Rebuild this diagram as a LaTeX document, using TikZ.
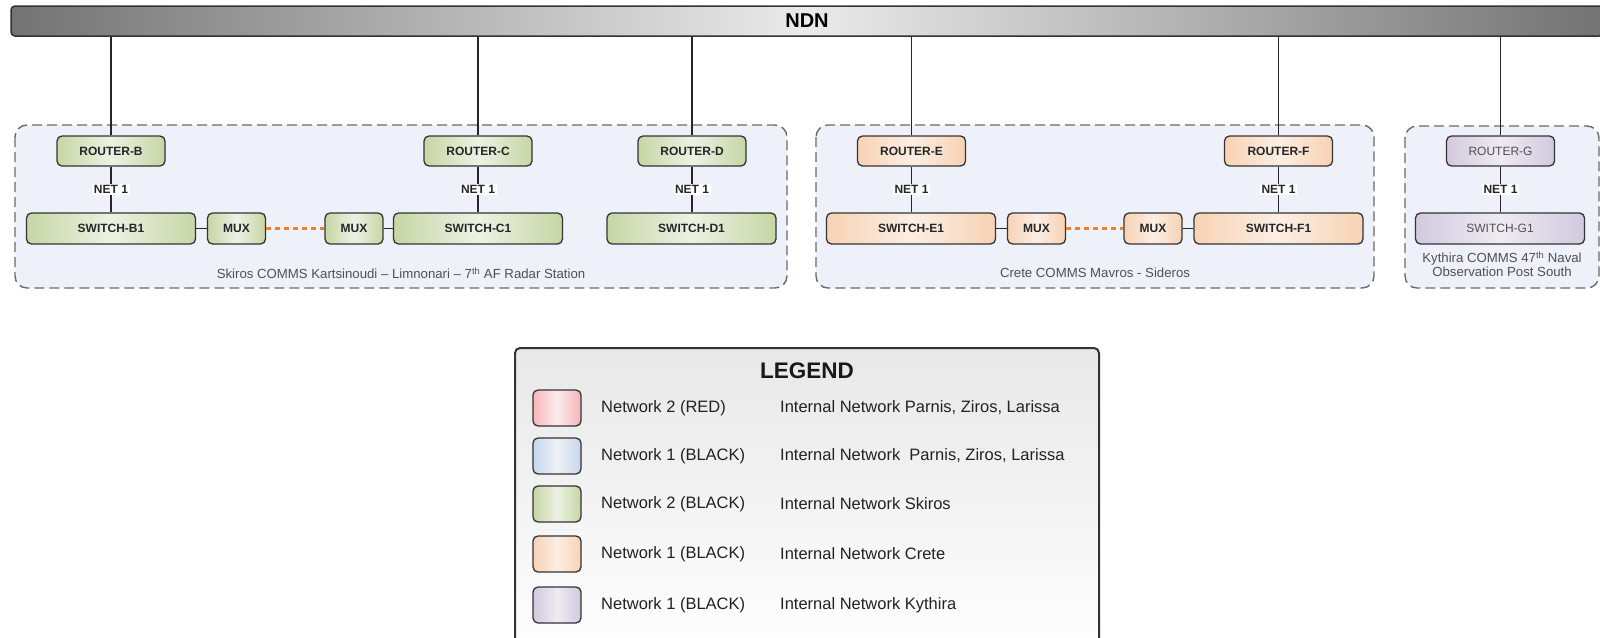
\documentclass[tikz,border=0pt]{standalone}
\usepackage{fontspec}
\setmainfont{Liberation Sans}
\usetikzlibrary{positioning}

\definecolor{linec}{HTML}{333333}
\definecolor{grpfill}{HTML}{EEF1F9}
\definecolor{grpline}{HTML}{6A6A6A}
\definecolor{grnC}{HTML}{C6D6A4}
\definecolor{grnM}{HTML}{EDF1E4}
\definecolor{orgC}{HTML}{F8D2B4}
\definecolor{orgM}{HTML}{FBEEE4}
\definecolor{purC}{HTML}{D2C9DF}
\definecolor{purM}{HTML}{EEEBF2}
\definecolor{redC}{HTML}{F7B5B9}
\definecolor{redM}{HTML}{F9EDED}
\definecolor{bluC}{HTML}{C6D7EF}
\definecolor{bluM}{HTML}{EFF1F5}
\definecolor{muxlink}{HTML}{F0802A}
\definecolor{grptext}{HTML}{505050}
\definecolor{legtext}{HTML}{222222}

\tikzset{
  dev/.style={draw=linec, line width=1.3pt, rounded corners=5pt, inner sep=0pt,
    minimum height=30pt, font=\fontsize{12}{13}\selectfont\bfseries, text=black!85},
  routerbox/.style={dev, minimum width=108pt},
  switchbox/.style={dev, minimum width=169pt, minimum height=31pt},
  muxbox/.style={dev, minimum width=58pt, minimum height=31pt},
  gshade/.style={left color=grnC, right color=grnC, middle color=grnM},
  oshade/.style={left color=orgC, right color=orgC, middle color=orgM},
  pshade/.style={left color=purC, right color=purC, middle color=purM,
    font=\fontsize{12}{13}\selectfont, text=grptext},
  wire/.style={draw=black!85, line width=1.2pt},
  muxwire/.style={draw=muxlink, line width=2.6pt, dash pattern=on 5pt off 4pt},
  netlbl/.style={fill=white, inner sep=1.5pt, font=\fontsize{12}{13}\selectfont\bfseries, text=black!85},
  grpbox/.style={draw=grpline, fill=grpfill, line width=1.4pt, rounded corners=12pt,
    dash pattern=on 10pt off 5pt},
  grplbl/.style={font=\fontsize{13.2}{15}\selectfont, text=grptext, align=center},
  swatch/.style={draw=linec, line width=1.3pt, rounded corners=5pt,
    minimum width=48pt, minimum height=36pt, inner sep=0pt},
  legcol/.style={anchor=west, font=\fontsize{16.5}{18}\selectfont, text=legtext, inner sep=0pt},
}

\begin{document}
\begin{tikzpicture}[x=1pt, y=-1pt]
\useasboundingbox (0,0) rectangle (1600,637);
\clip (0,0) rectangle (1600,637);

% backbone bar
\node (ndn) [draw=linec, line width=1.5pt, rounded corners=4pt,
  left color=black!55, right color=black!55, middle color=black!8,
  minimum width=1592pt, minimum height=30pt, inner sep=0pt,
  font=\fontsize{20}{22}\selectfont\bfseries] at (807,21) {NDN};

% site groups
\draw[grpbox] (15,125) rectangle (787,288);
\draw[grpbox] (816,125) rectangle (1374,288);
\draw[grpbox] (1405,126) rectangle (1599,288);

% Skiros
\node (rB) [routerbox, gshade] at (111,151) {ROUTER-B};
\node (rC) [routerbox, gshade] at (478,151) {ROUTER-C};
\node (rD) [routerbox, gshade] at (692,151) {ROUTER-D};
\node (sB) [switchbox, gshade] at (111,228.5) {SWITCH-B1};
\node (sC) [switchbox, gshade] at (478,228.5) {SWITCH-C1};
\node (sD) [switchbox, gshade] at (691.5,228.5) {SWITCH-D1};
\node (mB) [muxbox, gshade] at (236.5,228.5) {MUX};
\node (mC) [muxbox, gshade] at (354,228.5) {MUX};

% Crete
\node (rE) [routerbox, oshade] at (911.5,151) {ROUTER-E};
\node (rF) [routerbox, oshade] at (1278.5,151) {ROUTER-F};
\node (sE) [switchbox, oshade] at (911,228.5) {SWITCH-E1};
\node (sF) [switchbox, oshade] at (1278.5,228.5) {SWITCH-F1};
\node (mE) [muxbox, oshade] at (1036.5,228.5) {MUX};
\node (mF) [muxbox, oshade] at (1153,228.5) {MUX};

% Kythira
\node (rG) [routerbox, pshade] at (1500.5,151) {ROUTER-G};
\node (sG) [switchbox, pshade] at (1500,228.5) {SWITCH-G1};

% uplinks to the backbone
\foreach \r in {rB,rC,rD,rE,rF,rG}
  \draw[wire] (\r.north) -- (\r.north |- ndn.south);

% router to switch links
\foreach \r/\s in {rB/sB,rC/sC,rD/sD,rE/sE,rF/sF,rG/sG}
  \draw[wire] (\r.south) -- node[netlbl] {NET 1} (\r.south |- \s.north);

% switch to mux links
\draw[wire] (sB.east) -- (mB.west);
\draw[wire] (mC.east) -- (sC.west);
\draw[wire] (sE.east) -- (mE.west);
\draw[wire] (mF.east) -- (sF.west);
\draw[muxwire] (mB.east) -- (mC.west);
\draw[muxwire] (mE.east) -- (mF.west);

% site captions
\node (lS) [grplbl] at (401,273) {Skiros COMMS Kartsinoudi – Limnonari – 7\textsuperscript{th} AF Radar Station};
\node (lC) [grplbl] at (1095,273) {Crete COMMS Mavros - Sideros};
\node (lK) [grplbl] at (1502,264.5) {Kythira COMMS 47\textsuperscript{th} Naval\\[-1pt]Observation Post South};

% legend
\draw[draw=linec, line width=2pt, rounded corners=5pt, top color=black!9, bottom color=white]
  (515,348) rectangle (1099,660);
\node (lt) [font=\fontsize{22.5}{24}\selectfont\bfseries, text=black!90] at (807,371) {LEGEND};

\node (k1) [swatch, left color=redC, right color=redC, middle color=redM] at (557,408) {};
\node (k2) [swatch, left color=bluC, right color=bluC, middle color=bluM] at (557,456) {};
\node (k3) [swatch, left color=grnC, right color=grnC, middle color=grnM] at (557,504) {};
\node (k4) [swatch, left color=orgC, right color=orgC, middle color=orgM] at (557,554) {};
\node (k5) [swatch, left color=purC, right color=purC, middle color=purM] at (557,605) {};

\node (n1) [legcol] at (601,408) {Network 2 (RED)};
\node (n2) [legcol] at (601,456) {Network 1 (BLACK)};
\node (n3) [legcol] at (601,504) {Network 2 (BLACK)};
\node (n4) [legcol] at (601,554) {Network 1 (BLACK)};
\node (n5) [legcol] at (601,605) {Network 1 (BLACK)};

\node (d1) [legcol] at (780,408) {Internal Network Parnis, Ziros, Larissa};
\node (d2) [legcol] at (780,456) {Internal Network\ \ Parnis, Ziros, Larissa};
\node (d3) [legcol] at (780,504) {Internal Network Skiros};
\node (d4) [legcol] at (780,554) {Internal Network Crete};
\node (d5) [legcol] at (780,605) {Internal Network Kythira};
\end{tikzpicture}
\end{document}
